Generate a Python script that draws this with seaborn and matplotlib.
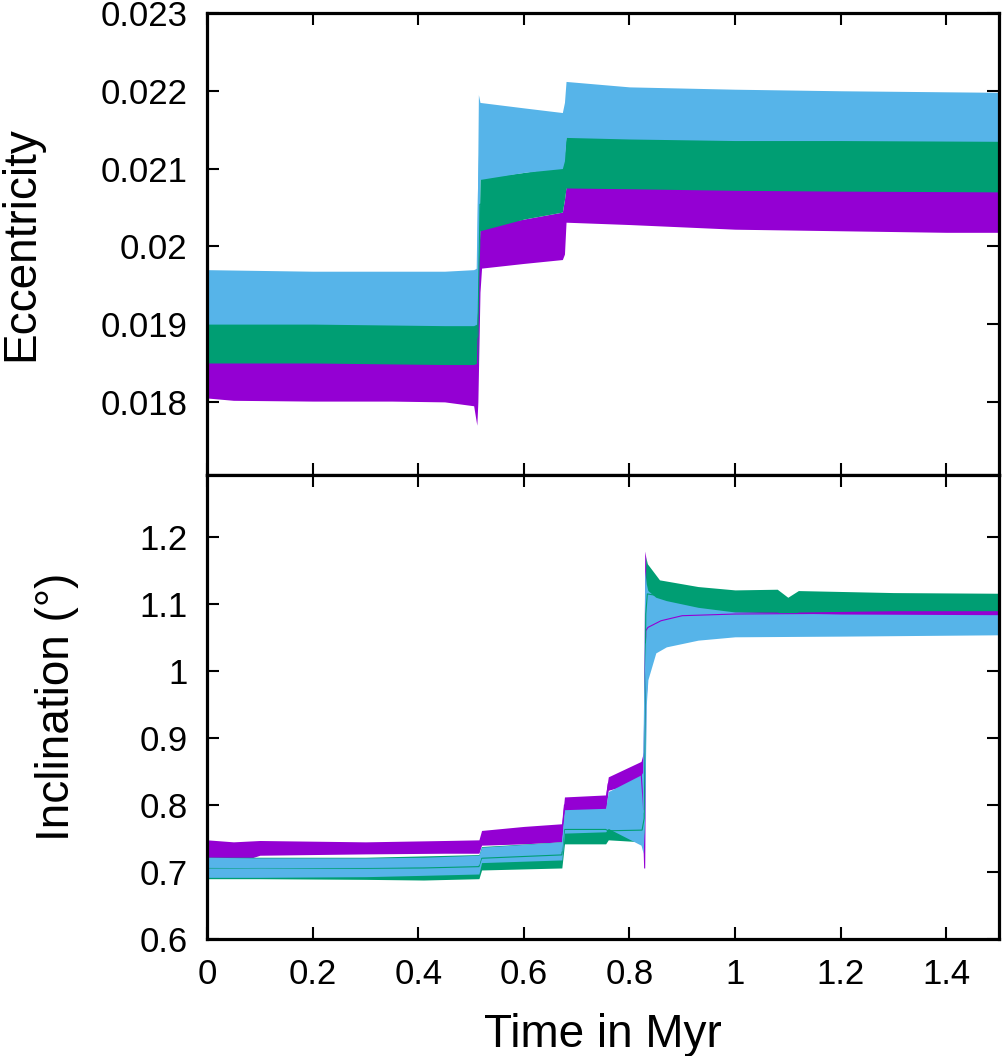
import numpy as np
import pandas as pd
import matplotlib
matplotlib.use("Agg")
import matplotlib.pyplot as plt
import seaborn as sns
from matplotlib.ticker import FormatStrFormatter, MultipleLocator

# --- data: lower / upper envelope of each noisy curve ---
runs = ["run1", "run2", "run3"]
colors = ["#9400D3", "#009E73", "#56B4E9"]

# eccentricity
ecc_t_1 = [0, 0.05, 0.2, 0.35, 0.45, 0.505, 0.511, 0.513, 0.517, 0.52, 0.6, 0.673, 0.677, 0.68, 0.8, 0.9, 1.0, 1.2, 1.4, 1.5]
ecc_lo_1 = [0.01805, 0.01802, 0.01801, 0.01801, 0.01800, 0.01795, 0.01770, 0.01800, 0.01941, 0.01972, 0.01978, 0.01983, 0.01990, 0.02031, 0.02028, 0.02025, 0.02022, 0.02020, 0.02018, 0.02018]
ecc_hi_1 = [0.01855, 0.01852, 0.01852, 0.01852, 0.01850, 0.01850, 0.01850, 0.01950, 0.02026, 0.02026, 0.02035, 0.02044, 0.02060, 0.02077, 0.02076, 0.02075, 0.02074, 0.02073, 0.02073, 0.02073]

ecc_t_2 = [0, 0.2, 0.45, 0.505, 0.513, 0.517, 0.6, 0.673, 0.677, 0.68, 0.8, 1.0, 1.2, 1.5]
ecc_lo_2 = [0.01850, 0.01850, 0.01848, 0.01848, 0.01850, 0.02020, 0.02035, 0.02044, 0.02060, 0.02075, 0.02074, 0.02072, 0.02071, 0.02070]
ecc_hi_2 = [0.01903, 0.01903, 0.01900, 0.01900, 0.01920, 0.02088, 0.02095, 0.02103, 0.02120, 0.02142, 0.02140, 0.02138, 0.02138, 0.02137]

ecc_t_3 = [0, 0.2, 0.45, 0.505, 0.511, 0.514, 0.517, 0.6, 0.673, 0.677, 0.68, 0.8, 1.0, 1.2, 1.5]
ecc_lo_3 = [0.01900, 0.01900, 0.01898, 0.01898, 0.01900, 0.01940, 0.02086, 0.02095, 0.02100, 0.02110, 0.02140, 0.02138, 0.02136, 0.02136, 0.02135]
ecc_hi_3 = [0.01970, 0.01968, 0.01968, 0.01970, 0.01972, 0.02195, 0.02185, 0.02178, 0.02172, 0.02185, 0.02212, 0.02205, 0.02202, 0.02200, 0.02198]

# inclination (deg)
inc_t_1 = [0, 0.05, 0.1, 0.3, 0.45, 0.515, 0.52, 0.6, 0.672, 0.677, 0.755, 0.76, 0.822, 0.827, 0.829, 0.831, 0.835, 0.86, 0.9, 1.0, 1.2, 1.5]
inc_lo_1 = [0.715, 0.712, 0.725, 0.727, 0.728, 0.728, 0.740, 0.742, 0.745, 0.788, 0.790, 0.822, 0.835, 0.706, 0.706, 0.950, 1.000, 1.050, 1.070, 1.078, 1.080, 1.080]
inc_hi_1 = [0.748, 0.745, 0.747, 0.745, 0.747, 0.748, 0.762, 0.768, 0.772, 0.812, 0.815, 0.842, 0.865, 0.880, 1.179, 1.170, 1.130, 1.100, 1.095, 1.092, 1.092, 1.092]

inc_t_2 = [0, 0.1, 0.3, 0.41, 0.515, 0.52, 0.672, 0.677, 0.755, 0.76, 0.824, 0.828, 0.831, 0.834, 0.857, 0.93, 1.0, 1.08, 1.1, 1.12, 1.3, 1.5]
inc_lo_2 = [0.690, 0.690, 0.689, 0.688, 0.690, 0.703, 0.706, 0.742, 0.742, 0.748, 0.745, 0.760, 1.000, 1.070, 1.088, 1.088, 1.088, 1.088, 1.082, 1.088, 1.090, 1.090]
inc_hi_2 = [0.722, 0.722, 0.722, 0.724, 0.726, 0.738, 0.745, 0.785, 0.785, 0.775, 0.780, 0.800, 1.170, 1.160, 1.136, 1.126, 1.121, 1.122, 1.110, 1.120, 1.117, 1.116]

inc_t_3 = [0, 0.1, 0.3, 0.41, 0.515, 0.52, 0.672, 0.677, 0.755, 0.76, 0.822, 0.826, 0.829, 0.832, 0.835, 0.85, 0.87, 0.93, 1.0, 1.2, 1.5]
inc_lo_3 = [0.692, 0.692, 0.693, 0.695, 0.697, 0.714, 0.718, 0.758, 0.760, 0.765, 0.740, 0.728, 0.780, 0.950, 0.987, 1.027, 1.036, 1.046, 1.051, 1.052, 1.054]
inc_hi_3 = [0.722, 0.721, 0.721, 0.722, 0.725, 0.737, 0.745, 0.793, 0.795, 0.820, 0.845, 0.850, 1.150, 1.130, 1.120, 1.110, 1.105, 1.095, 1.088, 1.085, 1.084]

ecc_t = [ecc_t_1, ecc_t_2, ecc_t_3]
ecc_lo = [ecc_lo_1, ecc_lo_2, ecc_lo_3]
ecc_hi = [ecc_hi_1, ecc_hi_2, ecc_hi_3]
inc_t = [inc_t_1, inc_t_2, inc_t_3]
inc_lo = [inc_lo_1, inc_lo_2, inc_lo_3]
inc_hi = [inc_hi_1, inc_hi_2, inc_hi_3]


def long_form(ts, los, his):
    rows = []
    for name, t, lo, hi in zip(runs, ts, los, his):
        for a, b, c in zip(t, lo, hi):
            rows.append((name, a, b))
            rows.append((name, a, c))
    return pd.DataFrame(rows, columns=["run", "time", "value"])


df_ecc = long_form(ecc_t, ecc_lo, ecc_hi)
df_inc = long_form(inc_t, inc_lo, inc_hi)

sns.set_style("ticks")
plt.rcParams["font.family"] = ["Liberation Sans", "DejaVu Sans"]
plt.rcParams["text.color"] = "black"
plt.rcParams["axes.labelcolor"] = "black"

fig = plt.figure(figsize=(10.02, 10.56), dpi=100)
ax1 = fig.add_axes([0.2066, 0.5502, 0.7904, 0.4375])
ax2 = fig.add_axes([0.2066, 0.1108, 0.7904, 0.4394])

pal = dict(zip(runs, colors))
for ax, df in [(ax1, df_ecc), (ax2, df_inc)]:
    sns.lineplot(data=df, x="time", y="value", hue="run", hue_order=runs, palette=pal,
                 errorbar=("pi", 100), err_kws={"alpha": 1, "linewidth": 0},
                 linewidth=0.8, legend=False, ax=ax)
    ax.set_xlim(0, 1.5)
    ax.xaxis.set_major_locator(MultipleLocator(0.2))
    ax.tick_params(direction="in", length=8.6, width=1.5, top=True, right=True,
                   labelsize=25, colors="black")
    ax.tick_params(axis="y", pad=14)
    ax.tick_params(axis="x", pad=14)
    for s in ax.spines.values():
        s.set_linewidth(2.3)
        s.set_color("black")

ax1.set_ylim(0.01706, 0.023)
ax1.yaxis.set_major_locator(MultipleLocator(0.001))
ax1.yaxis.set_major_formatter(FormatStrFormatter("%g"))
ax1.set_xticklabels([])
ax1.set_xlabel("")
ax1.set_ylabel("Eccentricity", fontsize=33)
ax1.yaxis.set_label_coords(-0.207, 0.5)

ax2.set_ylim(0.6, 1.2925)
ax2.yaxis.set_major_locator(MultipleLocator(0.1))
ax2.yaxis.set_major_formatter(FormatStrFormatter("%g"))
ax2.xaxis.set_major_formatter(FormatStrFormatter("%g"))
ax2.set_ylabel("Inclination (°)", fontsize=33)
ax2.yaxis.set_label_coords(-0.162, 0.5)
ax2.set_xlabel("Time in Myr", fontsize=33)
ax2.xaxis.set_label_coords(0.5, -0.160)

fig.savefig("out.png", dpi=100)
